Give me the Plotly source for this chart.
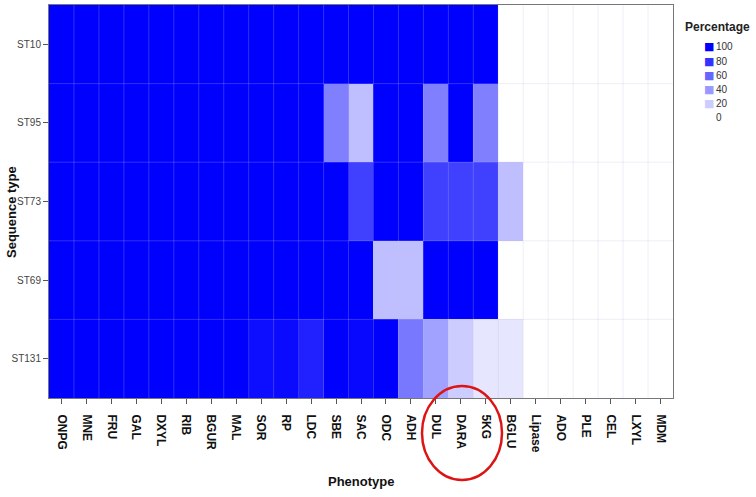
import plotly.graph_objects as go

phenotypes = ["ONPG", "MNE", "FRU", "GAL", "DXYL", "RIB", "BGUR", "MAL", "SOR", "RP",
              "LDC", "SBE", "SAC", "ODC", "ADH", "DUL", "DARA", "5KG", "BGLU", "Lipase",
              "ADO", "PLE", "CEL", "LXYL", "MDM"]
sequence_types = ["ST10", "ST95", "ST73", "ST69", "ST131"]

st10 = [100] * 18 + [0] * 7
st95 = [100] * 11 + [50, 25, 100, 100, 50, 100, 50] + [0] * 7
st73 = [100] * 12 + [75, 100, 100, 75, 75, 75, 25] + [0] * 6
st69 = [100] * 13 + [25, 25, 100, 100, 100] + [0] * 7
st131 = [100] * 8 + [95, 96, 87, 100, 97, 100, 53, 37, 20, 10, 10] + [0] * 6

legend_levels = [100, 80, 60, 40, 20, 0]

z = [st10, st95, st73, st69, st131]
nx = len(phenotypes)
ny = len(sequence_types)

FONT = "Liberation Sans, Arial, sans-serif"
NARROW = "Liberation Sans Narrow, Liberation Sans, Arial, sans-serif"

W, H = 756, 497
L, R, T, B = 49, 83, 5, 99
PW, PH = W - L - R, H - T - B


def px_x(px):
    return (px - L) / PW


def px_y(py):
    return (H - B - py) / PH


def level_color(v):
    c = int(round(255 * (1 - v / 100)))
    return f"rgb({c},{c},255)"


fig = go.Figure()
fig.add_trace(go.Heatmap(
    z=z,
    x=list(range(nx)),
    y=list(range(ny)),
    zmin=0, zmax=100,
    colorscale=[[0, "rgb(255,255,255)"], [1, "rgb(0,0,255)"]],
    showscale=False,
    hoverinfo="skip",
))

shapes = []
grid_col = "rgba(190,190,230,0.25)"
for i in range(1, nx):
    shapes.append(dict(type="line", xref="x", yref="y", x0=i - 0.5, x1=i - 0.5,
                       y0=-0.5, y1=ny - 0.5, line=dict(color=grid_col, width=1),
                       layer="above"))
for j in range(1, ny):
    shapes.append(dict(type="line", xref="x", yref="y", x0=-0.5, x1=nx - 0.5,
                       y0=j - 0.5, y1=j - 0.5, line=dict(color=grid_col, width=1),
                       layer="above"))
# red highlight ellipse around DUL / DARA / 5KG labels
shapes.append(dict(type="circle", xref="paper", yref="paper",
                   x0=px_x(422), x1=px_x(502), y0=px_y(480), y1=px_y(386),
                   line=dict(color="rgb(220,20,20)", width=2.5), layer="above"))

annotations = [
    dict(text="<b>Percentage</b>", xref="paper", yref="paper",
         x=px_x(683), y=px_y(27), xanchor="left", yanchor="middle",
         showarrow=False, font=dict(family=FONT, size=12, color="#222")),
    dict(text="<b>Phenotype</b>", xref="paper", yref="paper",
         x=px_x(361), y=px_y(482), xanchor="center", yanchor="middle",
         showarrow=False, font=dict(family=FONT, size=13, color="#111")),
    dict(text="<b>Sequence type</b>", xref="paper", yref="paper",
         x=px_x(11), y=px_y(212), xanchor="center", yanchor="middle", textangle=-90,
         showarrow=False, font=dict(family=FONT, size=13, color="#111")),
]
for k, v in enumerate(legend_levels):
    yy = px_y(47 + k * 14)
    if v > 0:
        annotations.append(dict(text="■", xref="paper", yref="paper",
                                x=px_x(702), y=yy, xanchor="left", yanchor="middle",
                                showarrow=False,
                                font=dict(family="DejaVu Sans", size=11, color=level_color(v))))
    annotations.append(dict(text=str(v), xref="paper", yref="paper",
                            x=px_x(714), y=yy, xanchor="left", yanchor="middle",
                            showarrow=False,
                            font=dict(family=NARROW, size=10, color="#333")))

fig.update_layout(
    width=W, height=H,
    margin=dict(l=L, r=R, t=T, b=B),
    paper_bgcolor="white", plot_bgcolor="white",
    shapes=shapes,
    annotations=annotations,
    showlegend=False,
    xaxis=dict(
        tickmode="array", tickvals=list(range(nx)),
        ticktext=[f"<b>{p}</b>" for p in phenotypes],
        tickangle=90, ticks="outside", ticklen=5, tickcolor="#555",
        tickfont=dict(family=FONT, size=12, color="#111"),
        ticklabelstandoff=8,
        range=[-0.5, nx - 0.5], showgrid=False, zeroline=False,
        showline=True, linecolor="#777", linewidth=1, mirror=True,
        automargin=False,
    ),
    yaxis=dict(
        tickmode="array", tickvals=list(range(ny)), ticktext=sequence_types,
        ticks="outside", ticklen=5, tickcolor="#555",
        tickfont=dict(family=FONT, size=10, color="#444"),
        range=[ny - 0.5, -0.5], showgrid=False, zeroline=False,
        showline=True, linecolor="#777", linewidth=1, mirror=True,
        automargin=False,
    ),
)

fig.write_html("out.html", config={"displayModeBar": False},
               post_script="document.body.style.margin='0';document.body.style.padding='0';")
